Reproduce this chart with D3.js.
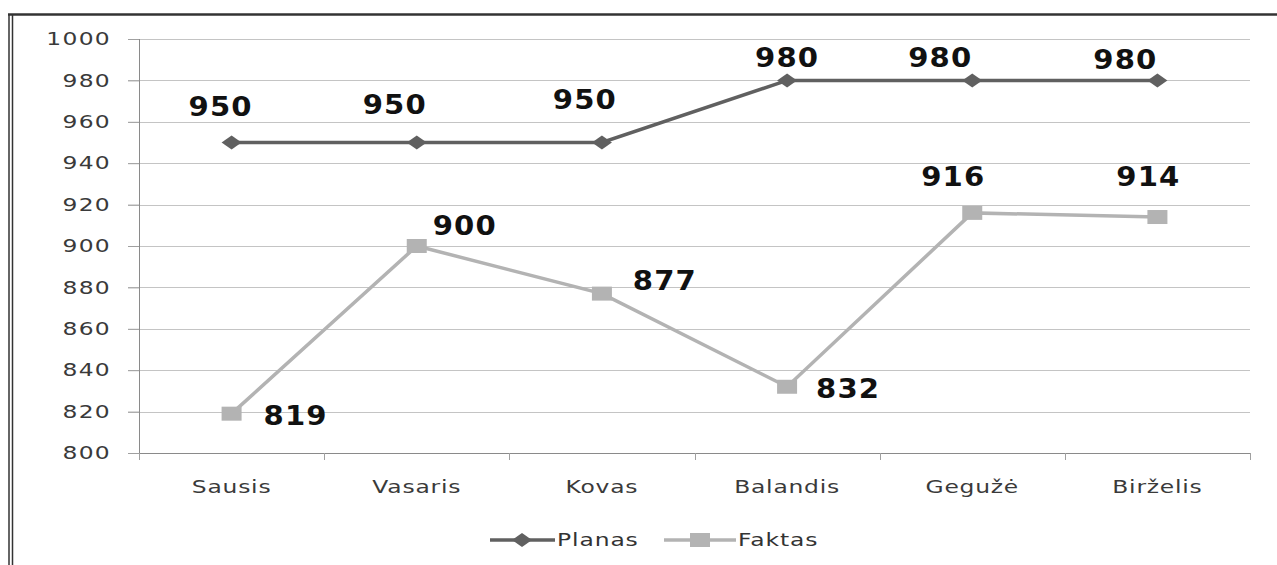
<!DOCTYPE html>
<html><head><meta charset="utf-8">
<script src="https://cdn.jsdelivr.net/npm/d3@7"></script>
<style>body{margin:0;background:#fff;}svg{display:block;}</style>
</head><body>
<svg id="c" width="1277" height="565"></svg>
<script>
const categories = ["Sausis","Vasaris","Kovas","Balandis","Gegužė","Birželis"];
const planas = [950,950,950,980,980,980];
const faktas = [819,900,877,832,916,914];
const yTicks = [800,820,840,860,880,900,920,940,960,980,1000];
// label offsets (dx, dy) in px relative to each point
const planasLabelOff = [[-11,-35],[-22,-37],[-17,-42],[0,-22],[-32,-22],[-32,-20]];
const faktasLabelOff = [[64,2],[48,-20],[63,-13],[61,2],[-19,-36],[-9,-40]];

const svg = d3.select("#c");
const m = {l:139, r:1250, t:39, b:453};
const x = d3.scaleBand().domain(categories).range([m.l, m.r]);
const y = d3.scaleLinear().domain([800,1000]).range([m.b, m.t]);
const cx = d => x(d) + x.bandwidth()/2;

// horizontally stretch text glyphs (reference font is wide)
function stretch(sel, sx){
  sel.each(function(){
    const t = d3.select(this);
    const tx = +t.attr("x") || 0;
    t.attr("x",0).attr("transform",`translate(${tx},0) scale(${sx},1)`);
  });
}

// frame
svg.append("line").attr("x1",8).attr("x2",1277).attr("y1",14.5).attr("y2",14.5).attr("stroke","#333").attr("stroke-width",2.5);
svg.append("line").attr("x1",9).attr("x2",9).attr("y1",14).attr("y2",565).attr("stroke","#333").attr("stroke-width",1.5);
svg.append("line").attr("x1",12.5).attr("x2",12.5).attr("y1",14).attr("y2",565).attr("stroke","#333").attr("stroke-width",1.5);

// gridlines
svg.append("g").selectAll("line").data(yTicks.filter(t=>t>800)).join("line")
  .attr("x1",128).attr("x2",m.r).attr("y1",d=>Math.round(y(d))+0.5).attr("y2",d=>Math.round(y(d))+0.5)
  .attr("stroke","#c4c4c4").attr("stroke-width",1);

const axisFont = s => s.attr("font-family","DejaVu Sans").attr("font-size",18).attr("fill","#3a3a3a");

// y axis
const ya = svg.append("g").attr("transform",`translate(${m.l},0)`)
  .call(d3.axisLeft(y).tickValues(yTicks).tickFormat(d3.format("d")).tickSize(11).tickPadding(17));
ya.attr("font-size",null).attr("font-family",null);
ya.select(".domain").attr("stroke","#8a8a8a").attr("d",`M0.5,${m.t}V${m.b}`);
ya.selectAll(".tick line").attr("stroke","#a0a0a0");
ya.selectAll("text").call(axisFont).attr("letter-spacing","1px").call(stretch,1.3);

// x axis
const xa = svg.append("g").attr("transform",`translate(0,${m.b})`)
  .call(d3.axisBottom(x).tickSize(0).tickPadding(27));
xa.attr("font-size",null).attr("font-family",null);
xa.select(".domain").attr("stroke","#8a8a8a").attr("d",`M${m.l},0.5H${m.r}`);
xa.selectAll("text").call(axisFont).attr("letter-spacing","0.6px").call(stretch,1.3);
// x tick marks at band boundaries
svg.append("g").selectAll("line").data(categories.concat([null])).join("line")
  .attr("x1",(d,i)=>Math.round(m.l + i*x.bandwidth())+0.5).attr("x2",(d,i)=>Math.round(m.l + i*x.bandwidth())+0.5)
  .attr("y1",m.b).attr("y2",m.b+7).attr("stroke","#a0a0a0");

const line = d3.line().x((d,i)=>cx(categories[i])).y(d=>y(d));
const cP = "#606060", cF = "#b3b3b3";
const diamond = "M-10,0L0,-7L10,0L0,7Z";

svg.append("path").datum(faktas).attr("d",line).attr("fill","none").attr("stroke",cF).attr("stroke-width",3.5);
svg.append("path").datum(planas).attr("d",line).attr("fill","none").attr("stroke",cP).attr("stroke-width",3.5);

svg.append("g").selectAll("rect").data(faktas).join("rect")
  .attr("x",(d,i)=>cx(categories[i])-10).attr("y",d=>y(d)-7).attr("width",20).attr("height",14).attr("fill",cF);
svg.append("g").selectAll("path").data(planas).join("path")
  .attr("transform",(d,i)=>`translate(${cx(categories[i])},${y(d)})`)
  .attr("d",diamond).attr("fill",cP);

// data labels
const lblStyle = s => s.attr("font-family","DejaVu Sans").attr("font-weight","bold").attr("font-size",26)
  .attr("fill","#111").attr("text-anchor","middle").attr("dominant-baseline","central").attr("letter-spacing","1px");
svg.append("g").selectAll("text").data(planas).join("text")
  .attr("x",(d,i)=>cx(categories[i])+planasLabelOff[i][0]).attr("y",(d,i)=>y(d)+planasLabelOff[i][1])
  .text(d=>d).call(lblStyle).call(stretch,1.12);
svg.append("g").selectAll("text").data(faktas).join("text")
  .attr("x",(d,i)=>cx(categories[i])+faktasLabelOff[i][0]).attr("y",(d,i)=>y(d)+faktasLabelOff[i][1])
  .text(d=>d).call(lblStyle).call(stretch,1.12);

// legend
const lg = svg.append("g").attr("font-family","DejaVu Sans").attr("font-size",18).attr("fill","#333");
lg.append("line").attr("x1",490).attr("x2",555).attr("y1",540).attr("y2",540).attr("stroke",cP).attr("stroke-width",3.5);
lg.append("path").attr("transform","translate(522,540)").attr("d",diamond).attr("fill",cP);
lg.append("text").attr("x",557).attr("y",540).attr("dominant-baseline","central").attr("letter-spacing","0.7px").text("Planas").call(stretch,1.3);
lg.append("line").attr("x1",664).attr("x2",736).attr("y1",540).attr("y2",540).attr("stroke",cF).attr("stroke-width",3.5);
lg.append("rect").attr("x",690).attr("y",533).attr("width",20).attr("height",14).attr("fill",cF);
lg.append("text").attr("x",738).attr("y",540).attr("dominant-baseline","central").attr("letter-spacing","0.7px").text("Faktas").call(stretch,1.3);
</script>
</body></html>
